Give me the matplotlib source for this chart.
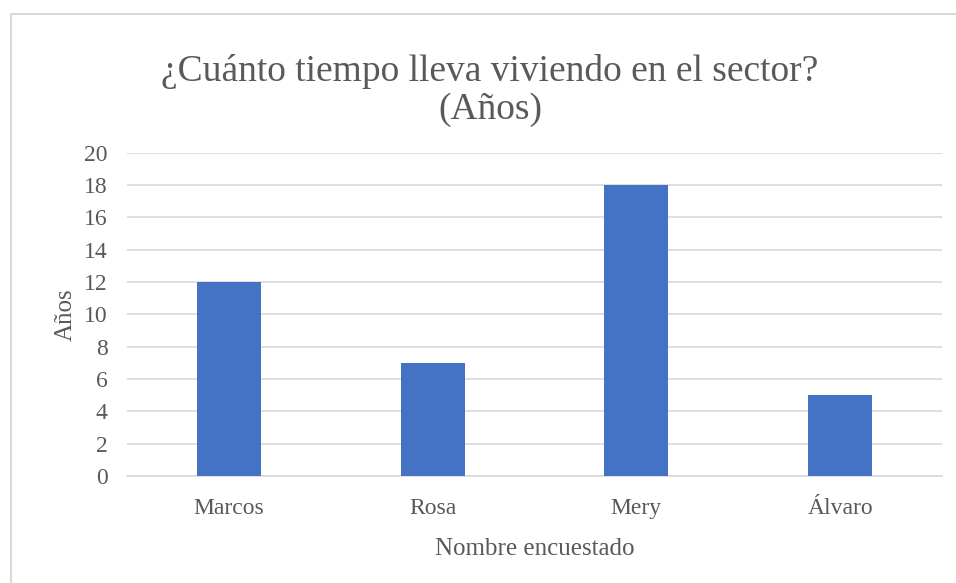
import matplotlib.pyplot as plt
from matplotlib.patches import Rectangle

nombres = ["Marcos", "Rosa", "Mery", "Álvaro"]
anios = [12, 7, 18, 5]
yticks = list(range(0, 21, 2))

plt.rcParams['font.family'] = ['Liberation Serif', 'DejaVu Serif']
gris = '#595959'

fig = plt.figure(figsize=(9.56, 5.83), dpi=100)
ax = fig.add_axes([127/956, 1 - 476/583, (942 - 127)/956, (476 - 152.5)/583])

ax.bar(range(len(nombres)), anios, width=0.315, color='#4472C4', zorder=3)
ax.set_xlim(-0.5, len(nombres) - 0.5)
ax.set_ylim(0, 20)
ax.set_yticks(yticks)
ax.set_xticks(range(len(nombres)))
ax.set_xticklabels(nombres)
ax.grid(axis='y', color='#D9D9D9', linewidth=1.2, zorder=0)
for s in ['top', 'right', 'left']:
    ax.spines[s].set_visible(False)
ax.spines['bottom'].set_color('#D9D9D9')
ax.spines['bottom'].set_linewidth(1.2)
ax.tick_params(length=0, labelsize=17, labelcolor=gris)
ax.tick_params(axis='y', pad=14)
ax.tick_params(axis='x', pad=15.5)

ax.set_xlabel("Nombre encuestado", fontsize=18, color=gris, labelpad=14)
ax.set_ylabel("Años", fontsize=18, color=gris, labelpad=5)

# titulo en dos lineas
titulo = ["¿Cuánto tiempo lleva viviendo en el sector?", "(Años)"]
for linea, yb in zip(titulo, [81, 119]):
    fig.text(490/956, 1 - yb/583, linea, ha='center', va='baseline',
             fontsize=27, color=gris)

# borde del gráfico
fig.patches.append(Rectangle((11/956, -0.1), 1.2, 1 - 13.5/583 + 0.1,
                             transform=fig.transFigure, fill=False,
                             edgecolor='#D9D9D9', linewidth=1.5))

fig.savefig("out.png", dpi=100)
